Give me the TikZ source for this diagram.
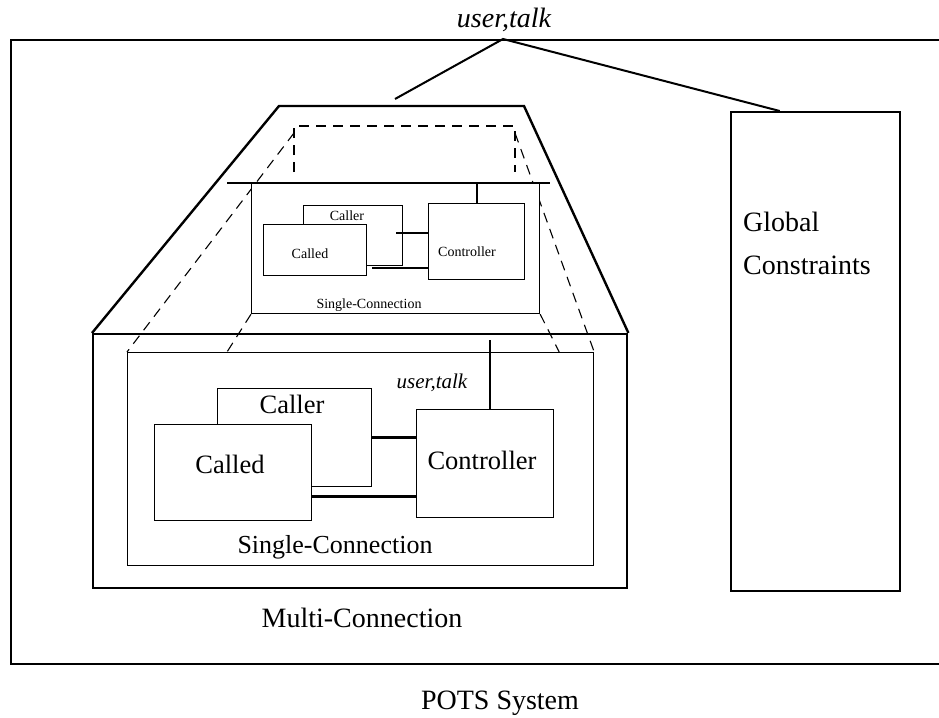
\documentclass[tikz,border=0pt]{standalone}
\usepackage{fontspec}
\setmainfont{Liberation Serif}
\usetikzlibrary{calc}

\begin{document}
\begin{tikzpicture}
  [
    x = 1pt, y = -1pt,  % pixel grid, y grows downwards
    box/.style = {draw, line width=1.2pt, fill=white, inner sep=0pt, anchor=north west},
    heavy/.style = {draw, line width=2.4pt, inner sep=0pt, anchor=north west},
    bar/.style = {line width=2.8pt},
    sbar/.style = {line width=2pt},
    guide/.style = {line width=1.1pt, dash pattern=on 10pt off 7pt},
    lbl/.style = {inner sep=0pt, anchor=base, font=\fontsize{26.5}{32}\selectfont},
    small/.style = {inner sep=0pt, anchor=base, font=\fontsize{14}{17}\selectfont}
  ]
  \useasboundingbox (0,0) rectangle (939,717);

  % outer system and its parts
  \node[heavy, minimum width=945pt, minimum height=624pt] (pots) at (10,39) {};
  \node[heavy, minimum width=169pt, minimum height=479pt] (glob) at (730,111) {};
  \node[heavy, minimum width=534pt, minimum height=254pt] (multi) at (92,333) {};
  \coordinate (trapL) at (279,106);
  \coordinate (trapR) at (524,106);
  \draw[line width=2.4pt] (multi.north west) -- (trapL) -- (trapR) -- (multi.north east);

  \node[lbl, font=\itshape\fontsize{28}{32}\selectfont] (top) at (504,28) {user,talk};
  \coordinate (hub) at (503,39);
  \coordinate (hubend) at (395,99);
  \draw[line width=2pt] (hubend) -- (hub) -- ([xshift=-36pt]glob.north);

  \node[lbl, anchor=north west, align=left, font=\fontsize{28}{43}\selectfont] (tglob) at (743,212) {Global\\Constraints};
  \node[lbl, font=\fontsize{28}{32}\selectfont] (tmulti) at (362,627) {Multi-Connection};
  \node[lbl, font=\fontsize{28}{32}\selectfont] (tpots) at (500,709) {POTS System};

  % dashed guides of the zoom
  \coordinate (dnw) at (294,126);
  \coordinate (dne) at (515,126);
  \draw[guide] ([yshift=-46pt]dnw) -- (dnw) -- (dne) -- ([yshift=-46pt]dne);
  \node[box, draw=none, fill=none, minimum width=466pt, minimum height=213pt] (single) at (127,352) {};
  \node[box, draw=none, fill=none, minimum width=288pt, minimum height=131pt] (ssingle) at (251,182) {};
  \draw[guide] ([yshift=-7pt]dnw) -- (single.north west);
  \draw[guide] ([yshift=-7pt]dne) -- (single.north east);
  \draw[guide] (ssingle.south west) -- ([xshift=100pt]single.north west);
  \draw[guide] (ssingle.south east) -- ([xshift=-35pt]single.north east);

  % small single connection
  \node[box, minimum width=288pt, minimum height=131pt] (ssingle) at (251,182) {};
  \coordinate (sbarL) at (227,183);
  \coordinate (sbarR) at (550,183);
  \draw[bar] (sbarL) -- (sbarR);
  \node[box, minimum width=99pt, minimum height=60pt] (scaller) at (303,205) {};
  \node[box, minimum width=103pt, minimum height=51pt] (scalled) at (263,224) {};
  \node[box, minimum width=96pt, minimum height=76pt] (sctrl) at (428,203) {};
  \draw[sbar] (sctrl.north) -- (sctrl.north |- sbarL);
  \draw[sbar] ([xshift=-7pt,yshift=3pt]scaller.east) -- ([yshift=3pt]scaller.east -| sctrl.west);
  \draw[sbar] ([xshift=5pt,yshift=-18pt]scalled.east) -- ([yshift=-18pt]scalled.east -| sctrl.west);
  \node[small] (tscaller) at (347,220) {Caller};
  \node[small] (tscalled) at (310,258) {Called};
  \node[small] (tsctrl) at (467,256) {Controller};
  \node[small] (tssingle) at (369,308) {Single-Connection};

  % big single connection
  \node[box, minimum width=466pt, minimum height=213pt] (single) at (127,352) {};
  \node[box, minimum width=154pt, minimum height=98pt] (caller) at (217,388) {};
  \node[box, minimum width=157pt, minimum height=96pt] (called) at (154,424) {};
  \node[box, minimum width=137pt, minimum height=108pt] (ctrl) at (416,409) {};
  \coordinate (ctop) at (490,340);
  \draw[bar] (ctop) -- (ctop |- ctrl.north);
  \draw[bar] (caller.east) -- (caller.east -| ctrl.west);
  \draw[bar] ([yshift=-24pt]called.east) -- ([yshift=-24pt]called.east -| ctrl.west);
  \node[lbl] (tcaller) at (292,413) {Caller};
  \node[lbl] (tcalled) at (230,473) {Called};
  \node[lbl] (tctrl) at (482,469) {Controller};
  \node[lbl, font=\itshape\fontsize{21}{25}\selectfont] (tuser) at (432,388) {user,talk};
  \node[lbl, font=\fontsize{26}{32}\selectfont] (tsingle) at (335,553) {Single-Connection};
\end{tikzpicture}
\end{document}
